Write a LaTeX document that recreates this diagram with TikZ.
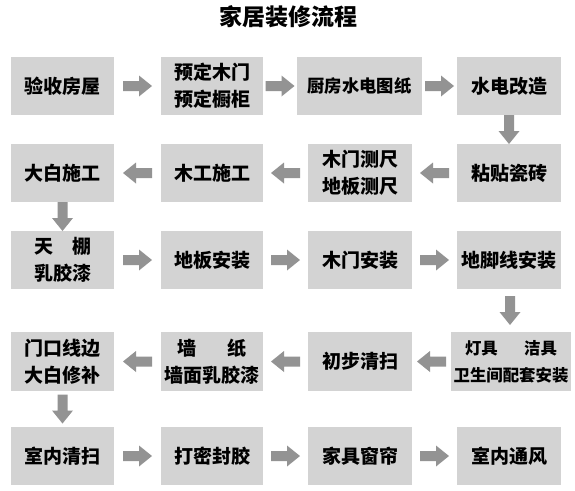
\documentclass[tikz,border=0pt]{standalone}
\usepackage{fontspec}
\setmainfont{Noto Sans CJK SC}
\usetikzlibrary{calc}
\definecolor{boxgray}{HTML}{D3D3D3}
\definecolor{arrgray}{HTML}{939393}
\tikzset{
  box/.style={rectangle, fill=boxgray, draw=none, inner sep=0pt, minimum height=58pt, minimum width=103pt, align=center, font=\fontsize{19}{27}\selectfont\bfseries},
  arrowfill/.style={fill=arrgray, draw=none}
}
\newcommand\blk[3]{%
  \path ($(#1)!.5!(#2)$) coordinate (m);
  \fill[arrowfill, shift={(m)}, rotate=#3] (-14.5,-5) -- (1.5,-5) -- (1.5,-10.5) -- (14.5,0) -- (1.5,10.5) -- (1.5,5) -- (-14.5,5) -- cycle;}
\begin{document}
\begin{tikzpicture}[x=1pt,y=-1pt]
\fill[white] (0,0) rectangle (575,490);
\useasboundingbox (0,0) rectangle (575,490);
\node[font=\fontsize{23}{27}\selectfont\bfseries] (title) at (288.5,17) {家居装修流程};
% row 1
\node[box] (A1) at (62.5,86) {验收房屋};
\node[box, minimum width=102pt] (A2) at (212,86) {预定木门\\预定橱柜};
\node[box, minimum width=125pt, font=\fontsize{17.3}{27}\selectfont\bfseries] (A3) at (359.5,86) {厨房水电图纸};
\node[box, minimum width=104pt] (A4) at (509,86) {水电改造};
% row 2
\node[box] (B1) at (62.5,173) {大白施工};
\node[box, minimum width=102pt] (B2) at (212,173) {木工施工};
\node[box, minimum width=104pt] (B3) at (360,173) {木门测尺\\地板测尺};
\node[box, minimum width=104pt] (B4) at (509,173) {粘贴瓷砖};
% row 3
\node[box] (C1) at (62.5,260) {\makebox[3em]{天\hfill 棚}\\乳胶漆};
\node[box, minimum width=102pt] (C2) at (212,260) {地板安装};
\node[box, minimum width=104pt] (C3) at (360,260) {木门安装};
\node[box, minimum width=104pt] (C4) at (509,260) {地脚线安装};
% row 4
\node[box, minimum height=59pt] (D1) at (62.5,361.5) {门口线边\\大白修补};
\node[box, minimum height=59pt, minimum width=102pt] (D2) at (212,361.5) {墙\hspace{1.6em}纸\\墙面乳胶漆};
\node[box, minimum height=59pt, minimum width=104pt] (D3) at (360,361.5) {初步清扫};
\node[box, minimum height=59pt, minimum width=120pt, font=\fontsize{16.4}{27}\selectfont\bfseries] (D4) at (511,361.5) {灯具\hspace{1.6em}洁具\\卫生间配套安装};
% row 5
\node[box] (E1) at (62.5,456) {室内清扫};
\node[box, minimum width=102pt] (E2) at (212,456) {打密封胶};
\node[box, minimum width=104pt] (E3) at (360,456) {家具窗帘};
\node[box, minimum width=104pt] (E4) at (509,456) {室内通风};
% arrows row 1
\blk{A1.east}{A2.west}{0}
\blk{A2.east}{A3.west}{0}
\blk{A3.east}{A4.west}{0}
\blk{A4.south}{B4.north}{-90}
% row 2
\blk{B4.west}{B3.east}{180}
\blk{B3.west}{B2.east}{180}
\blk{B2.west}{B1.east}{180}
\blk{B1.south}{C1.north}{-90}
% row 3
\blk{C1.east}{C2.west}{0}
\blk{C2.east}{C3.west}{0}
\blk{C3.east}{C4.west}{0}
\blk{C4.south}{D4.north}{-90}
% row 4
\blk{D4.west}{D3.east}{180}
\blk{D3.west}{D2.east}{180}
\blk{D2.west}{D1.east}{180}
\blk{D1.south}{E1.north}{-90}
% row 5
\blk{E1.east}{E2.west}{0}
\blk{E2.east}{E3.west}{0}
\blk{E3.east}{E4.west}{0}
\end{tikzpicture}
\end{document}
